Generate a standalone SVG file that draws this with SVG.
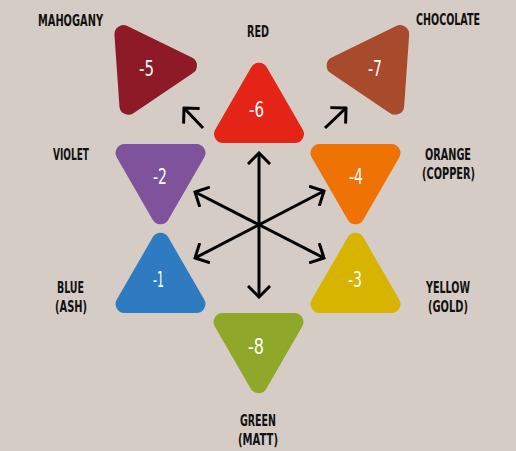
<svg xmlns="http://www.w3.org/2000/svg" xmlns:xlink="http://www.w3.org/1999/xlink" width="516" height="451" viewBox="0 0 516 451">
<style>
.lbl{font-family:"DejaVu Sans Condensed","DejaVu Sans",sans-serif;font-weight:bold;font-size:16px;fill:#111;text-anchor:middle}
.num{font-family:"DejaVu Sans Condensed","DejaVu Sans",sans-serif;font-size:21px;fill:#fff;text-anchor:middle}
.arr{stroke:#000;stroke-width:3;fill:none}
</style>
<defs>
<path id="tri" d="M -7.8,-45.96 A 9 9 0 0 1 7.8,-45.96 L 43.7,16.22 A 9 9 0 0 1 35.9,29.73 L -35.9,29.73 A 9 9 0 0 1 -43.7,16.22 Z"/>
<marker id="ah" viewBox="-12 -12 14 24" markerWidth="14" markerHeight="24" refX="0" refY="0" orient="auto-start-reverse" markerUnits="userSpaceOnUse">
<path d="M -10,-10 L 0,0 L -10,10" stroke="#000" stroke-width="3" fill="none" stroke-linecap="square"/>
</marker>
</defs>
<rect width="516" height="451" fill="#d5cdc5"/>
<g id="connectors">
<line class="arr" x1="259" y1="153" x2="259" y2="297" marker-start="url(#ah)" marker-end="url(#ah)"/>
<line class="arr" x1="195" y1="192" x2="324" y2="258" marker-start="url(#ah)" marker-end="url(#ah)"/>
<line class="arr" x1="195" y1="258" x2="324" y2="191" marker-start="url(#ah)" marker-end="url(#ah)"/>
<line class="arr" x1="203" y1="128" x2="184" y2="108" marker-end="url(#ah)"/>
<line class="arr" x1="325" y1="128" x2="346" y2="108" marker-end="url(#ah)"/>
</g>
<g id="mahogany">
<use xlink:href="#tri" transform="translate(146.6,68.5) rotate(86)" fill="#8f1a27"/>
<text class="num" x="146.5" y="76" textLength="15" lengthAdjust="spacingAndGlyphs">-5</text>
<text class="lbl" x="70.5" y="26" textLength="65" lengthAdjust="spacingAndGlyphs">MAHOGANY</text>
</g>
<g id="red">
<use xlink:href="#tri" transform="translate(259,113.3)" fill="#e42417"/>
<text class="num" x="256.5" y="117" textLength="15" lengthAdjust="spacingAndGlyphs">-6</text>
<text class="lbl" x="258" y="37" textLength="22" lengthAdjust="spacingAndGlyphs">RED</text>
</g>
<g id="chocolate">
<use xlink:href="#tri" transform="translate(377,68.5) rotate(-86)" fill="#a84a2c"/>
<text class="num" x="375" y="76" textLength="14" lengthAdjust="spacingAndGlyphs">-7</text>
<text class="lbl" x="448" y="25" textLength="64" lengthAdjust="spacingAndGlyphs">CHOCOLATE</text>
</g>
<g id="violet">
<use xlink:href="#tri" transform="translate(160.5,173.7) rotate(180)" fill="#7e539b"/>
<text class="num" x="160" y="184" textLength="14" lengthAdjust="spacingAndGlyphs">-2</text>
<text class="lbl" x="71" y="160" textLength="36" lengthAdjust="spacingAndGlyphs">VIOLET</text>
</g>
<g id="orange">
<use xlink:href="#tri" transform="translate(355.5,173.7) rotate(180)" fill="#ef7204"/>
<text class="num" x="356" y="184" textLength="14" lengthAdjust="spacingAndGlyphs">-4</text>
<text class="lbl" x="448" y="160" textLength="46" lengthAdjust="spacingAndGlyphs">ORANGE</text>
<text class="lbl" x="448.5" y="178.5" textLength="53" lengthAdjust="spacingAndGlyphs">(COPPER)</text>
</g>
<g id="blue">
<use xlink:href="#tri" transform="translate(160.5,283.3)" fill="#2f7bc1"/>
<text class="num" x="158.5" y="287" textLength="11" lengthAdjust="spacingAndGlyphs">-1</text>
<text class="lbl" x="70.5" y="293" textLength="27" lengthAdjust="spacingAndGlyphs">BLUE</text>
<text class="lbl" x="71" y="311.5" textLength="32" lengthAdjust="spacingAndGlyphs">(ASH)</text>
</g>
<g id="yellow">
<use xlink:href="#tri" transform="translate(355.5,283.3)" fill="#d6b400"/>
<text class="num" x="355" y="287" textLength="14" lengthAdjust="spacingAndGlyphs">-3</text>
<text class="lbl" x="448" y="293" textLength="44" lengthAdjust="spacingAndGlyphs">YELLOW</text>
<text class="lbl" x="448" y="311.5" textLength="40" lengthAdjust="spacingAndGlyphs">(GOLD)</text>
</g>
<g id="green">
<use xlink:href="#tri" transform="translate(258.5,342.7) rotate(180)" fill="#8fa82a"/>
<text class="num" x="256" y="354" textLength="16" lengthAdjust="spacingAndGlyphs">-8</text>
<text class="lbl" x="258" y="426" textLength="36" lengthAdjust="spacingAndGlyphs">GREEN</text>
<text class="lbl" x="258" y="444.5" textLength="40" lengthAdjust="spacingAndGlyphs">(MATT)</text>
</g>
</svg>
